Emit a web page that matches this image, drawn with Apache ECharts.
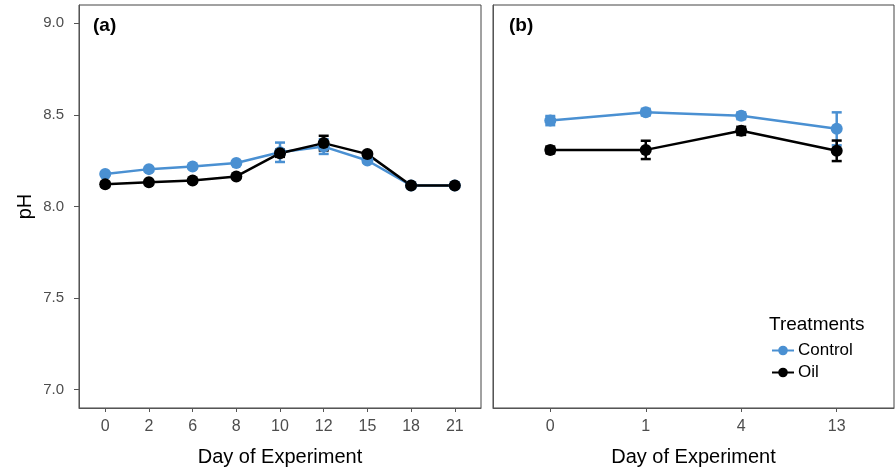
<!DOCTYPE html>
<html>
<head>
<meta charset="utf-8">
<script src="https://cdn.jsdelivr.net/npm/echarts@6/dist/echarts.min.js"></script>
<style>
  html, body { margin: 0; padding: 0; background: #fff; }
  #main { width: 896px; height: 470px; }
</style>
</head>
<body>
<div id="main"></div>
<script>
// 数据
var daysA = ['0', '2', '6', '8', '10', '12', '15', '18', '21'];
var controlA = [8.177, 8.204, 8.218, 8.237, 8.296, 8.327, 8.251, 8.115, 8.115];
var controlAErr = [0.008, 0.01, 0.008, 0.008, 0.053, 0.04, 0.01, 0.006, 0.006];
var oilA = [8.122, 8.133, 8.142, 8.164, 8.291, 8.346, 8.286, 8.115, 8.115];
var oilAErr = [0.012, 0.008, 0.008, 0.008, 0.02, 0.04, 0.012, 0.006, 0.006];

var daysB = ['0', '1', '4', '13'];
var controlB = [8.469, 8.515, 8.495, 8.424];
var controlBErr = [0.025, 0.018, 0.018, 0.09];
var oilB = [8.309, 8.309, 8.413, 8.304];
var oilBErr = [0.018, 0.05, 0.022, 0.056];

var yTicks = [7.0, 7.5, 8.0, 8.5, 9.0];

var blue = '#4A90D2';
var black = '#000';
var font = 'Liberation Sans, Arial, sans-serif';

function points(vals) {
  return vals.map(function (v, i) { return [i, v]; });
}
function bars(vals, errs) {
  return vals.map(function (v, i) { return [i, v - errs[i], v + errs[i]]; });
}
function idx(n) {
  var a = [];
  for (var i = 0; i < n; i++) a.push(i);
  return a;
}

function errorBar(params, api) {
  var lo = api.coord([api.value(0), api.value(1)]);
  var hi = api.coord([api.value(0), api.value(2)]);
  var w = 5;
  var st = { stroke: api.visual('color'), lineWidth: 2.5 };
  return {
    type: 'group',
    children: [
      { type: 'line', shape: { x1: lo[0], y1: lo[1], x2: hi[0], y2: hi[1] }, style: st },
      { type: 'line', shape: { x1: lo[0] - w, y1: lo[1], x2: lo[0] + w, y2: lo[1] }, style: st },
      { type: 'line', shape: { x1: hi[0] - w, y1: hi[1], x2: hi[0] + w, y2: hi[1] }, style: st }
    ]
  };
}

function xAxis(gi, labels) {
  return {
    type: 'value', gridIndex: gi,
    min: -0.6, max: labels.length - 0.4,
    name: 'Day of Experiment', nameLocation: 'middle', nameGap: 39,
    nameTextStyle: { fontSize: 20, color: '#000', fontFamily: font },
    axisLine: { show: true, onZero: false, lineStyle: { color: '#555', width: 1 } },
    axisTick: { show: true, length: 4, customValues: idx(labels.length), lineStyle: { color: '#555' } },
    axisLabel: {
      customValues: idx(labels.length), fontSize: 16, color: '#4d4d4d', margin: 11, fontFamily: font,
      formatter: function (v) { return labels[Math.round(v)]; }
    },
    splitLine: { show: false }
  };
}

function yAxis(gi, showLabels) {
  return {
    type: 'value', gridIndex: gi, min: 6.9, max: 9.1,
    name: showLabels ? 'pH' : '', nameLocation: 'middle', nameGap: 44,
    nameTextStyle: { fontSize: 20, color: '#000', fontFamily: font },
    axisLine: { show: true, onZero: false, lineStyle: { color: '#555', width: 1 } },
    axisTick: { show: showLabels, length: 5, customValues: yTicks, lineStyle: { color: '#555' } },
    axisLabel: {
      show: showLabels, customValues: yTicks, fontSize: 15, color: '#4d4d4d', margin: 15, fontFamily: font,
      formatter: function (v) { return v.toFixed(1); }
    },
    splitLine: { show: false }
  };
}

function lineSeries(name, gi, vals, color) {
  return {
    name: name, type: 'line', xAxisIndex: gi, yAxisIndex: gi,
    data: points(vals), symbol: 'circle', symbolSize: 12,
    itemStyle: { color: color }, lineStyle: { color: color, width: 2.5 },
    z: 3
  };
}
function errSeries(gi, vals, errs, color) {
  return {
    type: 'custom', xAxisIndex: gi, yAxisIndex: gi,
    data: bars(vals, errs), renderItem: errorBar,
    itemStyle: { color: color }, encode: { x: 0, y: [1, 2] }, z: 3
  };
}

var myChart = echarts.init(document.getElementById('main'));
var option = {
  animation: false,
  textStyle: { fontFamily: font },
  title: [
    { text: '(a)', left: 88, top: 11, textStyle: { fontSize: 19, fontWeight: 'bold', color: '#000' } },
    { text: '(b)', left: 504, top: 11, textStyle: { fontSize: 19, fontWeight: 'bold', color: '#000' } },
    { text: 'Treatments', left: 764, top: 310, textStyle: { fontSize: 19, fontWeight: 'normal', color: '#000' } }
  ],
  legend: {
    orient: 'vertical', left: 766, top: 337, itemGap: 5, itemWidth: 22, itemHeight: 12,
    data: ['Control', 'Oil'],
    textStyle: { fontSize: 17, color: '#000', padding: [0, 0, 0, -1] }
  },
  grid: [
    { left: 79, right: 415, top: 5, bottom: 62, show: true, borderColor: '#444', borderWidth: 1, outerBoundsMode: 'none' },
    { left: 493, right: 2, top: 5, bottom: 62, show: true, borderColor: '#444', borderWidth: 1, outerBoundsMode: 'none' }
  ],
  xAxis: [xAxis(0, daysA), xAxis(1, daysB)],
  yAxis: [yAxis(0, true), yAxis(1, false)],
  series: [
    errSeries(0, controlA, controlAErr, blue),
    lineSeries('Control', 0, controlA, blue),
    errSeries(0, oilA, oilAErr, black),
    lineSeries('Oil', 0, oilA, black),
    errSeries(1, controlB, controlBErr, blue),
    lineSeries('Control', 1, controlB, blue),
    errSeries(1, oilB, oilBErr, black),
    lineSeries('Oil', 1, oilB, black)
  ]
};
myChart.setOption(option);
</script>
</body>
</html>
